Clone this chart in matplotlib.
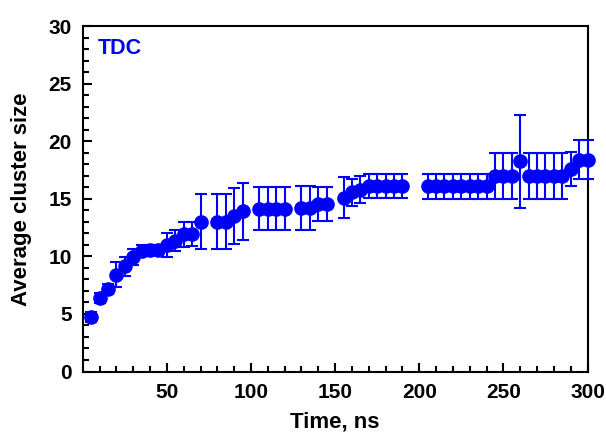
import numpy as np
import matplotlib
matplotlib.use('Agg')
import matplotlib.pyplot as plt
from matplotlib.ticker import MultipleLocator

##Dados
tempo = [5, 10, 15, 20, 25, 30, 35, 40, 45, 50, 55, 60, 65, 70,
         80, 85, 90, 95,
         105, 110, 115, 120,
         130, 135, 140, 145,
         155, 160, 165, 170, 175, 180, 185, 190,
         205, 210, 215, 220, 225, 230, 235, 240,
         245, 250, 255, 260, 265, 270, 275, 280, 285, 290, 295, 300]

tamanho = [4.75, 6.4, 7.15, 8.4, 9.15, 9.95, 10.5, 10.55, 10.55, 10.95, 11.35, 11.9, 11.95, 13.0,
           13.0, 13.0, 13.5, 13.9,
           14.15, 14.15, 14.15, 14.15,
           14.2, 14.2, 14.55, 14.55,
           15.1, 15.55, 15.8, 16.1, 16.1, 16.1, 16.1, 16.1,
           16.1, 16.1, 16.1, 16.1, 16.1, 16.1, 16.1, 16.1,
           17.0, 17.0, 17.0, 18.25, 17.0, 17.0, 17.0, 17.0, 17.0, 17.6, 18.4, 18.4]

erro = [0.45, 0.45, 0.45, 1.08, 0.83, 0.7, 0.45, 0.45, 0.45, 1.04, 0.9, 1.05, 1.05, 2.4,
        2.4, 2.4, 2.45, 2.45,
        1.9, 1.9, 1.9, 1.9,
        1.9, 1.9, 1.5, 1.5,
        1.75, 1.2, 1.2, 1.05, 1.05, 1.05, 1.05, 1.05,
        1.08, 1.08, 1.08, 1.08, 1.08, 1.08, 1.08, 1.08,
        2.0, 2.0, 2.0, 4.05, 2.0, 2.0, 2.0, 2.0, 2.0, 1.45, 1.7, 1.7]

plt.rcParams['font.family'] = ['Liberation Sans', 'DejaVu Sans']
plt.rcParams['font.weight'] = 'bold'

fig = plt.figure(figsize=(6.06, 4.42), dpi=100)
ax = fig.add_axes([0.1365, 0.1595, 0.833, 0.7815])

ax.errorbar(tempo, tamanho, yerr=erro, fmt='o', color='#0000ff', ecolor='#0000ff',
            markersize=9.5, elinewidth=1.5, capsize=4, capthick=1.5, clip_on=False, zorder=3)

ax.set_xlim(0, 300)
ax.set_ylim(0, 30)
ax.set_xticks([50, 100, 150, 200, 250, 300])
ax.xaxis.set_minor_locator(MultipleLocator(10))
ax.yaxis.set_major_locator(MultipleLocator(5))
ax.yaxis.set_minor_locator(MultipleLocator(1))
ax.tick_params(which='both', direction='in', width=1.5, top=False, right=False, labelsize=15)
ax.tick_params(which='major', length=6.5, pad=8)
ax.tick_params(which='minor', length=4.3)
for lab in ax.get_xticklabels() + ax.get_yticklabels():
    lab.set_fontweight('bold')
for s in ax.spines.values():
    s.set_linewidth(1.5)

ax.set_xlabel('Time, ns', fontsize=16, fontweight='bold', labelpad=7)
ax.set_ylabel('Average cluster size', fontsize=16, fontweight='bold', labelpad=12)
ax.text(0.03, 0.936, 'TDC', transform=ax.transAxes, color='#0000ff', fontsize=15.5,
        fontweight='bold', va='center', ha='left')

fig.savefig('out.png', dpi=100)
